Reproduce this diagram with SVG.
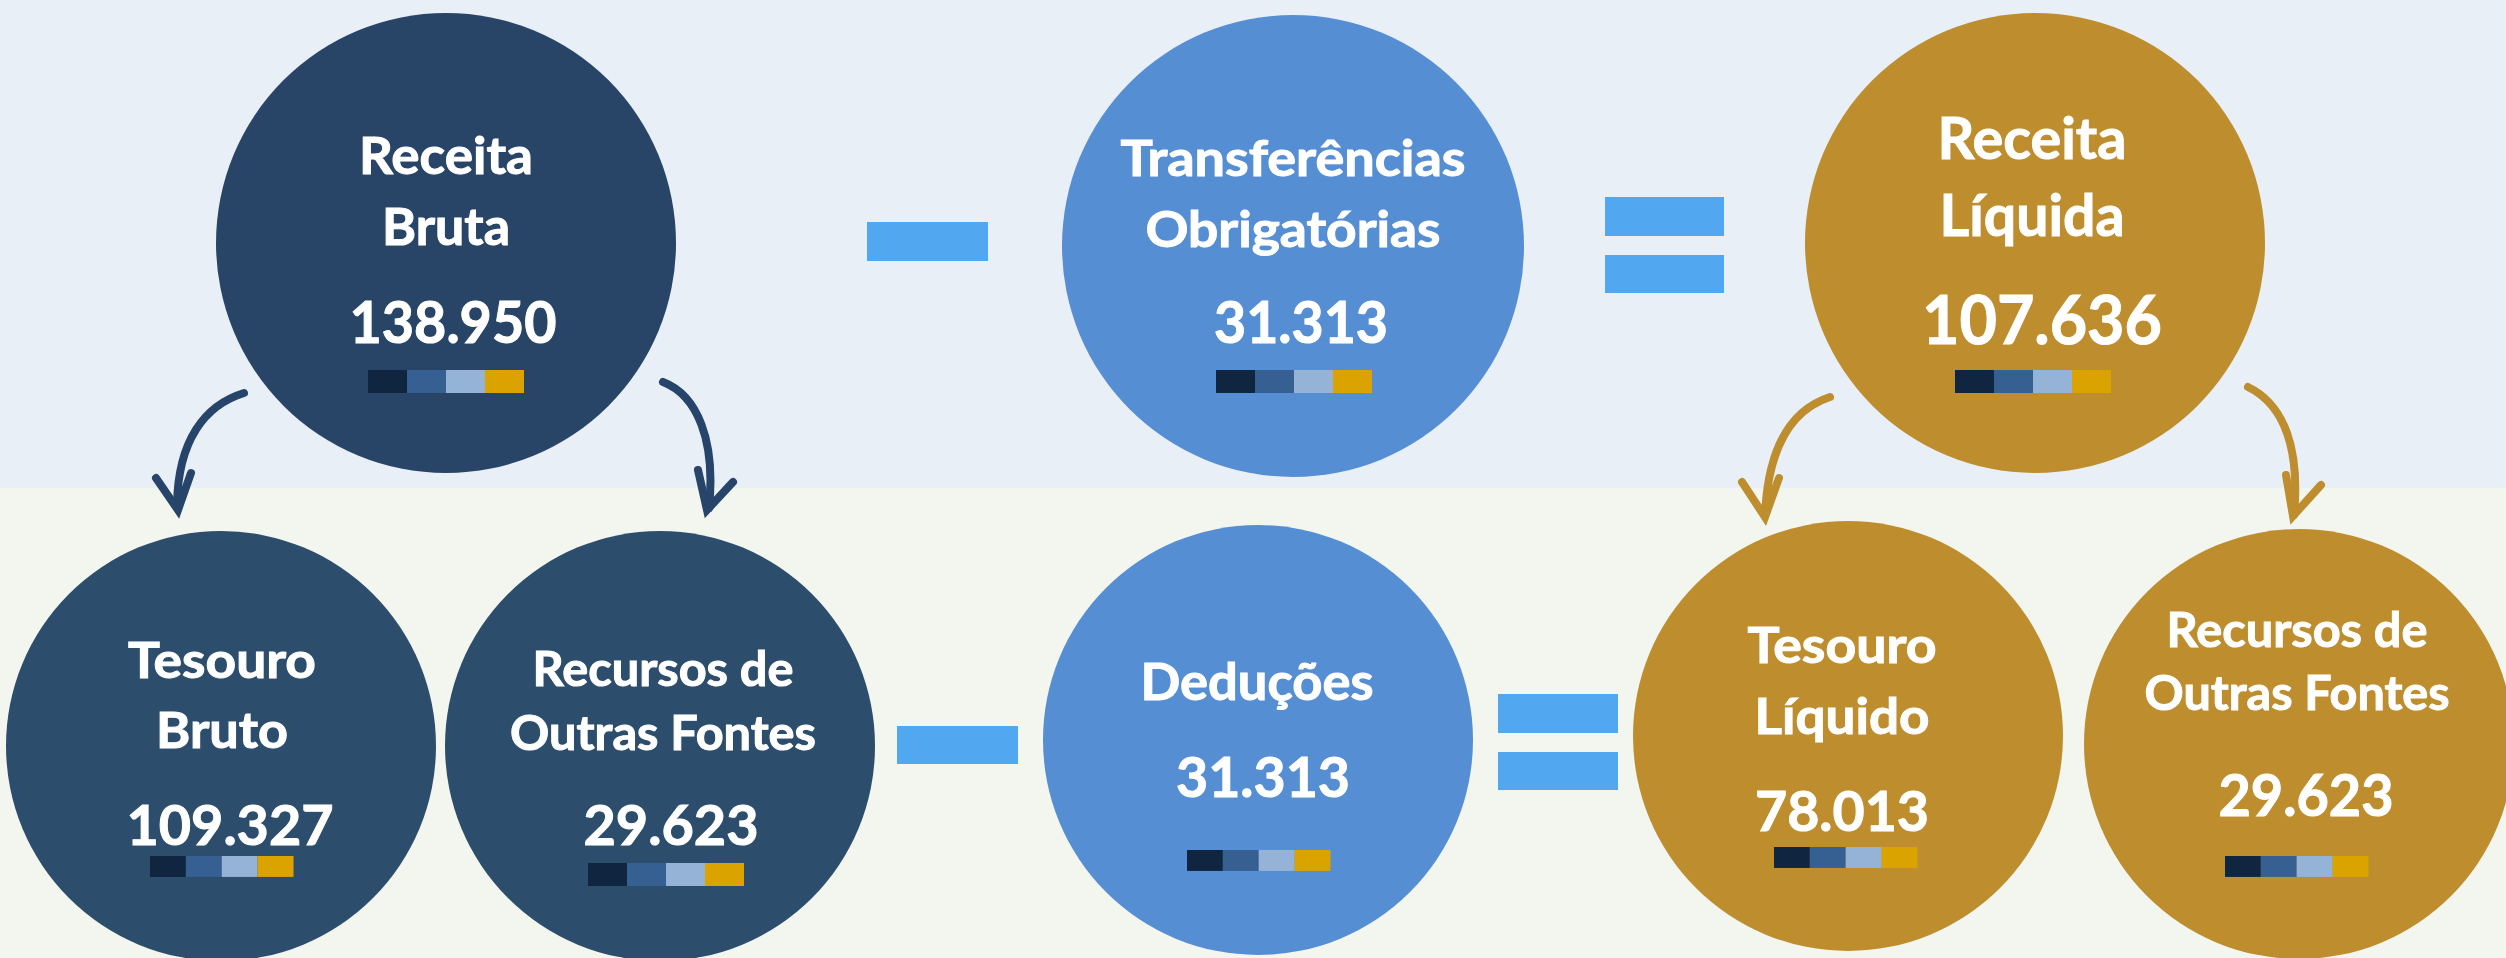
<svg xmlns="http://www.w3.org/2000/svg" width="2506" height="958" viewBox="0 0 2506 958">
<style>
.t{font-family:Lato,"Liberation Sans",sans-serif;font-weight:bold;fill:#FFFFFF;stroke:#FFFFFF;stroke-width:1;text-anchor:middle}
.op{fill:#52A8F0}
.navy{stroke:#27446A;stroke-width:8;fill:none;stroke-linecap:round}
.gold{stroke:#BD8D2E;stroke-width:8;fill:none;stroke-linecap:round}
.hn{stroke:#27446A;stroke-width:8;fill:none;stroke-linecap:round;stroke-linejoin:miter}
.hg{stroke:#BD8D2E;stroke-width:8;fill:none;stroke-linecap:round;stroke-linejoin:miter}
</style>
<defs>
<g id="bar">
<rect x="0" y="0" width="39" height="23" fill="#10253F"/>
<rect x="39" y="0" width="39" height="23" fill="#366092"/>
<rect x="78" y="0" width="39" height="23" fill="#95B3D7"/>
<rect x="117" y="0" width="39" height="23" fill="#DAA300"/>
</g>
</defs>
<rect x="0" y="0" width="2506" height="488" fill="#E8EFF7"/>
<rect x="0" y="488" width="2506" height="470" fill="#F3F6EE"/>

<g id="receita-bruta">
<circle cx="446" cy="243" r="230" fill="#284467"/>
<text class="t" x="446" y="174" font-size="52" textLength="174" lengthAdjust="spacingAndGlyphs">Receita</text>
<text class="t" x="446" y="245" font-size="52" textLength="128" lengthAdjust="spacingAndGlyphs">Bruta</text>
<text class="t" x="453" y="343" font-size="57" textLength="207" lengthAdjust="spacingAndGlyphs">138.950</text>
<use href="#bar" x="368" y="370"/>
</g>

<g id="transferencias">
<circle cx="1293" cy="246" r="231" fill="#568ED4"/>
<text class="t" x="1293" y="176" font-size="50" textLength="345" lengthAdjust="spacingAndGlyphs">Transferências</text>
<text class="t" x="1293" y="247" font-size="50" textLength="295" lengthAdjust="spacingAndGlyphs">Obrigatórias</text>
<text class="t" x="1301" y="343" font-size="57" textLength="174" lengthAdjust="spacingAndGlyphs">31.313</text>
<use href="#bar" x="1216" y="370"/>
</g>

<g id="receita-liquida">
<circle cx="2035" cy="243" r="230" fill="#BD8D2E"/>
<text class="t" x="2032" y="159" font-size="57" textLength="189" lengthAdjust="spacingAndGlyphs">Receita</text>
<text class="t" x="2032" y="236" font-size="57" textLength="185" lengthAdjust="spacingAndGlyphs">Líquida</text>
<text class="t" x="2042" y="344" font-size="67" textLength="240" lengthAdjust="spacingAndGlyphs">107.636</text>
<use href="#bar" x="1955" y="370"/>
</g>

<g id="tesouro-bruto">
<circle cx="221" cy="746" r="215" fill="#2C4D6C"/>
<text class="t" x="222" y="678" font-size="50" textLength="188" lengthAdjust="spacingAndGlyphs">Tesouro</text>
<text class="t" x="222" y="748" font-size="50" textLength="132" lengthAdjust="spacingAndGlyphs">Bruto</text>
<text class="t" x="230" y="845" font-size="56" textLength="207" lengthAdjust="spacingAndGlyphs">109.327</text>
<use href="#bar" x="150" y="856" transform="translate(150 856) scale(0.92 0.91) translate(-150 -856)"/>
</g>

<g id="recursos-bruto">
<circle cx="660" cy="746" r="215" fill="#2C4D6C"/>
<text class="t" x="663" y="686" font-size="48" textLength="261" lengthAdjust="spacingAndGlyphs">Recursos de</text>
<text class="t" x="663" y="750" font-size="48" textLength="306" lengthAdjust="spacingAndGlyphs">Outras Fontes</text>
<text class="t" x="671" y="845" font-size="56" textLength="175" lengthAdjust="spacingAndGlyphs">29.623</text>
<use href="#bar" x="588" y="863"/>
</g>

<g id="deducoes">
<circle cx="1258" cy="740" r="215" fill="#568ED4"/>
<text class="t" x="1257" y="700" font-size="52" textLength="233" lengthAdjust="spacingAndGlyphs">Deduções</text>
<text class="t" x="1263" y="797" font-size="56" textLength="174" lengthAdjust="spacingAndGlyphs">31.313</text>
<use href="#bar" x="1187" y="850" transform="translate(1187 850) scale(0.92 0.91) translate(-1187 -850)"/>
</g>

<g id="tesouro-liquido">
<circle cx="1848" cy="736" r="215" fill="#BD8D2E"/>
<text class="t" x="1842" y="663" font-size="49" textLength="189" lengthAdjust="spacingAndGlyphs">Tesouro</text>
<text class="t" x="1842" y="734" font-size="49" textLength="175" lengthAdjust="spacingAndGlyphs">Líquido</text>
<text class="t" x="1842" y="831" font-size="56" textLength="174" lengthAdjust="spacingAndGlyphs">78.013</text>
<use href="#bar" x="1774" y="847" transform="translate(1774 847) scale(0.92 0.91) translate(-1774 -847)"/>
</g>

<g id="recursos-liquido">
<circle cx="2299" cy="744" r="215" fill="#BD8D2E"/>
<text class="t" x="2297" y="647" font-size="48" textLength="261" lengthAdjust="spacingAndGlyphs">Recursos de</text>
<text class="t" x="2297" y="710" font-size="48" textLength="305" lengthAdjust="spacingAndGlyphs">Outras Fontes</text>
<text class="t" x="2306" y="816" font-size="57" textLength="175" lengthAdjust="spacingAndGlyphs">29.623</text>
<use href="#bar" x="2225" y="856" transform="translate(2225 856) scale(0.92 0.91) translate(-2225 -856)"/>
</g>

<g id="operators">
<rect class="op" x="867" y="222" width="121" height="39"/>
<rect class="op" x="1605" y="197" width="119" height="39"/>
<rect class="op" x="1605" y="255" width="119" height="38"/>
<rect class="op" x="897" y="726" width="121" height="38"/>
<rect class="op" x="1498" y="694" width="120" height="39"/>
<rect class="op" x="1498" y="752" width="120" height="38"/>
</g>

<g id="connectors">
<path class="navy" d="M244,393 C205,405 178,440 177,505"/>
<polyline class="hn" points="156,478 178,510 191,473"/>
<path class="navy" d="M663,382 C697,395 716,440 709,508"/>
<polyline class="hn" points="698,470 707,510 733,482"/>
<path class="gold" d="M1830,397 C1790,410 1768,450 1765,515"/>
<polyline class="hg" points="1742,482 1765,517 1779,478"/>
<path class="gold" d="M2248,387 C2285,405 2300,450 2294,515"/>
<polyline class="hg" points="2286,475 2293,516 2321,485"/>
</g>
</svg>
